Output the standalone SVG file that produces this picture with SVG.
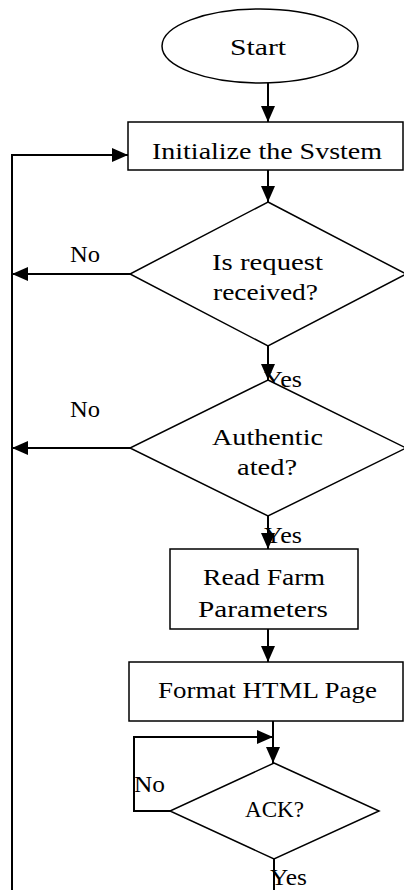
<svg xmlns="http://www.w3.org/2000/svg" width="404" height="890" viewBox="0 0 404 890">
<style>
.shape{fill:#fff;stroke:#000;stroke-width:1.5}
.conn{fill:none;stroke:#000;stroke-width:2}
text{font-family:"Liberation Serif","DejaVu Serif",serif;font-size:24px;fill:#000}
</style>
<defs>
<marker id="ah" markerUnits="userSpaceOnUse" markerWidth="16" markerHeight="16" viewBox="0 0 16 16" refX="16" refY="8" orient="auto">
<path d="M0,1 L16,8 L0,15 z" fill="#000"/>
</marker>
</defs>
<rect width="404" height="890" fill="#fff"/>
<g id="connectors">
<line class="conn" x1="268" y1="83" x2="268" y2="122" marker-end="url(#ah)"/>
<polyline class="conn" points="12,890 12,155 128,155" marker-end="url(#ah)"/>
<line class="conn" x1="268" y1="170" x2="268" y2="202" marker-end="url(#ah)"/>
<line class="conn" x1="130" y1="274" x2="12" y2="274" marker-end="url(#ah)"/>
<line class="conn" x1="268" y1="346" x2="268" y2="380" marker-end="url(#ah)"/>
<line class="conn" x1="130" y1="448" x2="12" y2="448" marker-end="url(#ah)"/>
<line class="conn" x1="268" y1="516" x2="268" y2="549" marker-end="url(#ah)"/>
<line class="conn" x1="268" y1="629" x2="268" y2="662" marker-end="url(#ah)"/>
<line class="conn" x1="273" y1="721" x2="273" y2="763" marker-end="url(#ah)"/>
<polyline class="conn" points="170,811 134,811 134,737 273,737" marker-end="url(#ah)"/>
<line class="conn" x1="274" y1="859" x2="274" y2="890"/>
<text x="70" y="262" textLength="30" lengthAdjust="spacingAndGlyphs">No</text>
<text x="264" y="387" textLength="38" lengthAdjust="spacingAndGlyphs">Yes</text>
<text x="70" y="417" textLength="30" lengthAdjust="spacingAndGlyphs">No</text>
<text x="264" y="543" textLength="38" lengthAdjust="spacingAndGlyphs">Yes</text>
<text x="134" y="792" textLength="31" lengthAdjust="spacingAndGlyphs">No</text>
<text x="270" y="885" textLength="37" lengthAdjust="spacingAndGlyphs">Yes</text>
</g>
<g id="start">
<ellipse class="shape" cx="260" cy="46" rx="98" ry="37"/>
<text x="230" y="55" textLength="56" lengthAdjust="spacingAndGlyphs">Start</text>
</g>
<g id="init">
<rect class="shape" x="128" y="122" width="275" height="48"/>
<text x="152" y="159" textLength="230" lengthAdjust="spacingAndGlyphs">Initialize the Svstem</text>
</g>
<g id="request">
<polygon class="shape" points="268,202 406,274 268,346 130,274"/>
<text x="212" y="270" textLength="111" lengthAdjust="spacingAndGlyphs">Is request</text>
<text x="213" y="300" textLength="105" lengthAdjust="spacingAndGlyphs">received?</text>
</g>
<g id="auth">
<polygon class="shape" points="268,380 406,448 268,516 130,448"/>
<text x="212" y="445" textLength="111" lengthAdjust="spacingAndGlyphs">Authentic</text>
<text x="237" y="475" textLength="60" lengthAdjust="spacingAndGlyphs">ated?</text>
</g>
<g id="read">
<rect class="shape" x="170" y="549" width="188" height="80"/>
<text x="203" y="585" textLength="122" lengthAdjust="spacingAndGlyphs">Read Farm</text>
<text x="198" y="617" textLength="130" lengthAdjust="spacingAndGlyphs">Parameters</text>
</g>
<g id="format">
<rect class="shape" x="129" y="662" width="274" height="59"/>
<text x="158" y="698" textLength="219" lengthAdjust="spacingAndGlyphs">Format HTML Page</text>
</g>
<g id="ack">
<polygon class="shape" points="274,763 379,811 274,859 170,811"/>
<text x="245" y="817" textLength="59" lengthAdjust="spacingAndGlyphs">ACK?</text>
</g>
</svg>
